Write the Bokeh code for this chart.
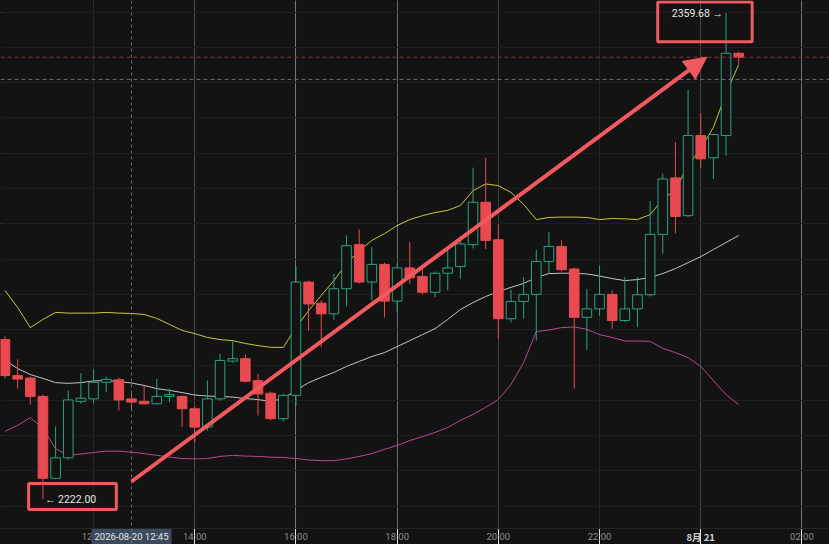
import pandas as pd
from bokeh.plotting import figure
from bokeh.models import ColumnDataSource, Span, Arrow, NormalHead, FixedTicker, Grid, Range1d
from bokeh.core.properties import value
from bokeh.embed import file_html
from bokeh.resources import INLINE

# ---------------- data (15-minute candles) ----------------
DAY_START = "2026-08-20 00:00"
SESSION_START = "2026-08-20 10:15"

OPEN = [2267.2, 2257.0, 2256.3, 2251.1, 2227.9, 2233.7, 2249.7, 2250.4, 2255.1, 2255.8,
        2250.4, 2249.7, 2249.0, 2251.1, 2251.1, 2247.6, 2242.4, 2250.4, 2261.1, 2261.8,
        2255.6, 2252.0, 2244.8, 2251.4, 2283.5, 2277.5, 2274.5, 2281.6, 2294.1, 2283.5,
        2288.5, 2278.1, 2287.5, 2285.1, 2280.6, 2286.0, 2287.9, 2294.1, 2306.1, 2295.5,
        2273.1, 2278.0, 2280.0, 2289.3, 2293.6, 2287.2, 2273.5, 2275.9, 2280.0, 2272.6,
        2275.9, 2279.9, 2297.0, 2313.0, 2302.3, 2325.0, 2318.7, 2325.0, 2348.3]
HIGH = [2268.1, 2261.6, 2256.7, 2251.6, 2242.6, 2252.8, 2257.7, 2258.9, 2256.7, 2256.5,
        2252.3, 2254.2, 2256.1, 2253.3, 2251.4, 2248.2, 2255.6, 2263.2, 2266.7, 2263.0,
        2257.5, 2252.5, 2251.9, 2287.9, 2283.9, 2278.3, 2285.8, 2296.7, 2298.4, 2293.4,
        2289.0, 2288.8, 2294.8, 2287.0, 2286.5, 2292.9, 2296.4, 2315.9, 2318.7, 2299.8,
        2281.3, 2284.9, 2292.6, 2297.6, 2295.3, 2287.6, 2281.6, 2288.2, 2281.1, 2284.9,
        2284.9, 2306.4, 2314.2, 2323.1, 2338.0, 2331.3, 2325.6, 2359.68, 2348.8]
LOW = [2256.2, 2253.3, 2248.8, 2222.0, 2227.6, 2233.2, 2249.1, 2249.1, 2252.3, 2247.1,
       2247.1, 2248.8, 2248.8, 2249.5, 2242.4, 2238.1, 2241.4, 2249.9, 2260.7, 2255.0,
       2245.7, 2244.3, 2244.0, 2248.5, 2269.8, 2265.0, 2272.8, 2276.6, 2283.1, 2278.3,
       2273.5, 2275.0, 2283.0, 2280.0, 2279.2, 2281.1, 2284.5, 2293.0, 2292.9, 2267.4,
       2272.1, 2273.1, 2266.9, 2285.8, 2286.5, 2253.3, 2264.3, 2274.0, 2270.3, 2272.1,
       2270.7, 2279.4, 2291.5, 2297.3, 2301.9, 2315.9, 2312.7, 2319.3, 2345.3]
CLOSE = [2257.0, 2256.0, 2251.1, 2227.9, 2233.7, 2250.1, 2250.6, 2255.1, 2255.9, 2250.1,
         2249.5, 2249.0, 2251.1, 2251.6, 2247.6, 2242.4, 2250.4, 2261.3, 2261.8, 2255.4,
         2251.8, 2244.8, 2251.4, 2283.5, 2277.3, 2274.5, 2281.6, 2293.8, 2283.5, 2288.5,
         2278.1, 2287.5, 2284.7, 2280.6, 2286.0, 2287.5, 2294.3, 2306.1, 2295.3, 2273.1,
         2278.0, 2280.0, 2289.3, 2293.6, 2287.0, 2273.5, 2275.9, 2280.0, 2272.6, 2275.9,
         2279.9, 2297.0, 2312.7, 2302.1, 2325.0, 2318.4, 2325.3, 2348.3, 2347.2]

BB_UPPER = [2281.1, 2276.3, 2270.6, 2272.9, 2274.9, 2274.7, 2274.7, 2274.7, 2274.9, 2274.7,
            2274.6, 2274.3, 2273.2, 2271.5, 2269.8, 2268.9, 2267.8, 2267.2, 2266.9, 2266.1,
            2265.5, 2265.0, 2265.0, 2270.6, 2275.4, 2279.7, 2283.9, 2288.7, 2292.4, 2295.3,
            2297.2, 2299.5, 2301.2, 2302.3, 2303.2, 2303.8, 2305.2, 2309.4, 2311.3, 2310.8,
            2308.9, 2305.5, 2301.2, 2301.8, 2301.9, 2301.9, 2301.8, 2301.2, 2301.5, 2301.4,
            2301.2, 2302.6, 2306.9, 2309.7, 2316.5, 2321.3, 2327.3, 2336.9, 2345.1]
BB_MID = [2261.3, 2259.0, 2257.3, 2256.2, 2255.0, 2254.8, 2255.0, 2255.5, 2255.6, 2255.3,
          2254.9, 2254.2, 2253.3, 2252.8, 2252.2, 2251.5, 2251.2, 2251.1, 2250.9, 2250.5,
          2250.2, 2249.7, 2250.5, 2252.8, 2255.0, 2256.5, 2257.9, 2259.6, 2261.0, 2262.4,
          2263.5, 2265.2, 2266.9, 2268.6, 2270.3, 2272.9, 2275.7, 2277.7, 2279.4, 2280.8,
          2282.0, 2283.1, 2284.8, 2285.9, 2286.0, 2286.0, 2285.8, 2285.2, 2284.5, 2283.9,
          2284.2, 2284.8, 2285.9, 2287.3, 2289.0, 2290.7, 2292.7, 2294.7, 2296.7]
BB_LOWER = [2241.2, 2242.9, 2245.1, 2242.0, 2236.3, 2234.4, 2234.8, 2235.2, 2235.6, 2235.6,
            2235.3, 2234.9, 2234.4, 2233.9, 2233.5, 2233.4, 2233.5, 2234.1, 2234.4, 2234.2,
            2234.1, 2233.9, 2233.8, 2233.5, 2233.1, 2232.9, 2232.9, 2233.4, 2234.1, 2234.9,
            2236.1, 2237.2, 2238.6, 2239.7, 2240.9, 2242.3, 2244.3, 2246.0, 2248.0, 2250.2,
            2254.5, 2260.7, 2269.5, 2269.9, 2270.6, 2270.8, 2270.1, 2268.6, 2267.8, 2266.8,
            2266.8, 2266.7, 2264.7, 2263.5, 2262.1, 2259.6, 2255.6, 2251.6, 2248.8]

TICK_TIMES = ["2026-08-20 12:00", "2026-08-20 14:00", "2026-08-20 16:00", "2026-08-20 18:00",
              "2026-08-20 20:00", "2026-08-20 22:00", "2026-08-21 00:00", "2026-08-21 02:00"]
TICK_LABELS = ["12:00", "14:00", "16:00", "18:00", "20:00", "22:00", "8月 21", "02:00"]
DAY_LABEL = "8月 21"
PRICE_GRID = [2220, 2230, 2240, 2250, 2260, 2270, 2280, 2290, 2300, 2310, 2320, 2330, 2340, 2350, 2360]

CROSSHAIR_TIME = "2026-08-20 12:45"
CROSSHAIR_PRICE = 2340.9

# annotation anchors (drawn marks on the screenshot)
ARROW_FROM = ("2026-08-20 12:45", 2227.0)
ARROW_TO = ("2026-08-21 00:07", 2347.2)
HIGH_BOX = ("2026-08-20 23:09", "2026-08-21 01:01", 2351.6, 2362.8)
LOW_BOX = ("2026-08-20 10:43", "2026-08-20 12:27", 2219.1, 2226.4)

# view
X_VIEW = (10.161, 26.545)      # hours since DAY_START
Y_VIEW = (2209.15, 2363.26)
AXIS_PRICE = 2213.7            # top of the time-axis strip
W, H = 829, 544

# ---------------- styles ----------------
BG = "#131313"
GRID = "#1e1e1e"
RED = "#e84a4f"
GREEN = "#2aa283"
ANNOT = "#f05a5f"
FONT = "Roboto"


def hours(t):
    return (pd.Timestamp(t) - pd.Timestamp(DAY_START)) / pd.Timedelta(hours=1)


times = pd.date_range(SESSION_START, periods=len(OPEN), freq="15min")
xh = [hours(t) for t in times]
up = [c >= o for o, c in zip(OPEN, CLOSE)]
bw = 0.19  # body width in hours

src = ColumnDataSource(dict(
    x=xh, left=[x - bw / 2 for x in xh], right=[x + bw / 2 for x in xh],
    top=[max(o, c) for o, c in zip(OPEN, CLOSE)],
    bottom=[min(o, c) for o, c in zip(OPEN, CLOSE)],
    high=HIGH, low=LOW,
    color=[GREEN if u else RED for u in up],
    fill=[BG if u else RED for u in up],
))

p = figure(width=W, height=H, x_range=Range1d(*X_VIEW), y_range=Range1d(*Y_VIEW),
           x_axis_location=None, y_axis_location=None, toolbar_location=None,
           output_backend="svg", min_border=0)
p.background_fill_color = BG
p.border_fill_color = BG
p.outline_line_color = None

# horizontal price grid
p.add_layout(Grid(dimension=1, ticker=FixedTicker(ticks=PRICE_GRID), grid_line_color=GRID))
# vertical time grid (stops at the axis strip)
tick_x = [hours(t) for t in TICK_TIMES]
p.segment(x0=tick_x, x1=tick_x, y0=[AXIS_PRICE] * len(tick_x), y1=[Y_VIEW[1]] * len(tick_x),
          line_color=GRID, line_width=1)
p.add_layout(Span(location=AXIS_PRICE, dimension="width", line_color="#262626", line_width=1))

# Bollinger bands
p.line(xh, BB_UPPER, line_color="#c9c83f", line_width=1)
p.line(xh, BB_MID, line_color="#c4c4c4", line_width=1)
p.line(xh, BB_LOWER, line_color="#b9478e", line_width=1)

# candles
p.segment(x0="x", x1="x", y0="high", y1="low", line_color="color", line_width=1, source=src)
p.quad(left="left", right="right", top="top", bottom="bottom", fill_color="fill",
       line_color="color", line_width=1, source=src)

# last price & crosshair lines
p.add_layout(Span(location=CLOSE[-1], dimension="width", line_color="#8f3439",
                  line_dash="4 3", line_width=1))
p.add_layout(Span(location=CROSSHAIR_PRICE, dimension="width", line_color="#6e6e6e",
                  line_dash="4 3", line_width=1))
p.add_layout(Span(location=hours(CROSSHAIR_TIME), dimension="height", line_color="#6e6e6e",
                  line_dash="3 3", line_width=1))

# high / low labels
i_hi = HIGH.index(max(HIGH))
i_lo = LOW.index(min(LOW))
p.text(x=[xh[i_hi]], y=[HIGH[i_hi]], text=[f"{HIGH[i_hi]:.2f} →"], text_align="right",
       text_baseline="middle", x_offset=-3, text_color="#e6e6e6", text_font_size="10.5px",
       text_font=value(FONT))
p.text(x=[xh[i_lo]], y=[LOW[i_lo]], text=[f"← {LOW[i_lo]:.2f}"], text_align="left",
       text_baseline="middle", x_offset=2, text_color="#e6e6e6", text_font_size="10.5px",
       text_font=value(FONT))

# annotation boxes and arrow
for (l, r, b, t) in (HIGH_BOX, LOW_BOX):
    p.quad(left=[hours(l)], right=[hours(r)], bottom=[b], top=[t], fill_alpha=0,
           line_color=ANNOT, line_width=3)
p.add_layout(Arrow(end=NormalHead(size=22, fill_color=ANNOT, line_color=ANNOT),
                   x_start=hours(ARROW_FROM[0]), y_start=ARROW_FROM[1],
                   x_end=hours(ARROW_TO[0]), y_end=ARROW_TO[1],
                   line_color=ANNOT, line_width=4))

# time-axis labels
px_per_unit = H / (Y_VIEW[1] - Y_VIEW[0])
label_y = Y_VIEW[0] + 8 / px_per_unit
normal = [(x, t) for x, t in zip(tick_x, TICK_LABELS) if t != DAY_LABEL]
p.text(x=[n[0] for n in normal], y=[label_y] * len(normal), text=[n[1] for n in normal],
       text_align="center", text_baseline="middle", text_color="#8c8c8c",
       text_font_size="9.5px", text_font=value(FONT))
day = [(x, t) for x, t in zip(tick_x, TICK_LABELS) if t == DAY_LABEL]
p.text(x=[d[0] for d in day], y=[label_y] * len(day), text=[d[1] for d in day],
       text_align="center", text_baseline="middle", text_color="#cfcfcf",
       text_font_style="bold", text_font_size="9.5px", text_font=value("Noto Sans CJK SC"))

# crosshair time label
p.text(x=[hours(CROSSHAIR_TIME)], y=[label_y], text=[CROSSHAIR_TIME], text_align="center",
       text_baseline="middle", text_color="#e8e8e8", text_font_size="9.5px",
       text_font=value(FONT), background_fill_color="#3c4a5d", padding=3)

html = file_html(p, INLINE)
html = html.replace("</head>", "<style>html, body {background-color: #131313; overflow: hidden;}</style>\n</head>", 1)
open("out.html", "w").write(html)
